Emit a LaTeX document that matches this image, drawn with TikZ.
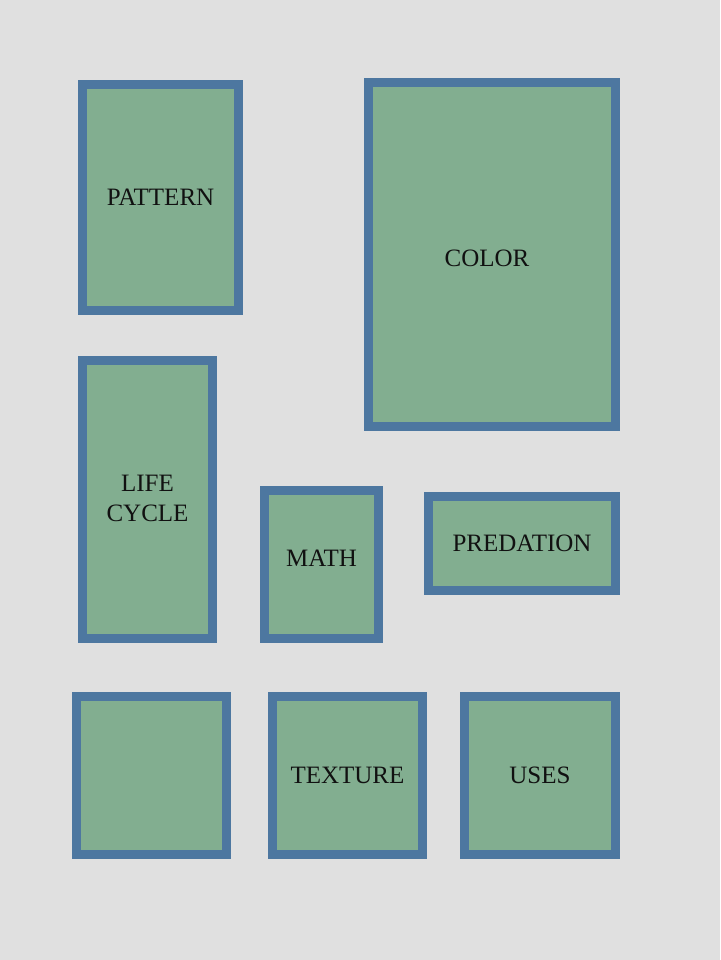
\documentclass[tikz,border=0pt]{standalone}
\usepackage{fontspec}
\setmainfont{Liberation Serif}
\usepackage{xcolor}
\definecolor{bggray}{HTML}{E0E0E0}
\definecolor{boxblue}{HTML}{4D77A0}
\definecolor{boxgreen}{HTML}{82AE90}
\definecolor{boxtext}{HTML}{111111}

\begin{document}
\begin{tikzpicture}[x=1pt, y=-1pt,
          box/.style={draw=boxblue, fill=boxgreen, line width=9pt, text=boxtext, inner sep=0pt,
                      font=\fontsize{25}{30}\selectfont, align=center}]
        \fill[bggray] (0,0) rectangle (720,960);
        % top row
        \node[box, minimum width=156pt, minimum height=226pt] (pattern) at (160.5,197.5) {PATTERN};
        \node[box, minimum width=247pt, minimum height=344pt, text height=25pt] (color) at (492,254.5) {COLOR\hspace{10pt}};
        % middle row
        \node[box, minimum width=130pt, minimum height=278pt, text depth=3pt] (life) at (147.5,499.5) {LIFE\\CYCLE};
        \node[box, minimum width=114pt, minimum height=148pt, text depth=12pt] (math) at (321.5,564.5) {MATH};
        \node[box, minimum width=187pt, minimum height=94pt] (predation) at (522,543.5) {PREDATION};
        % bottom row
        \node[box, minimum width=150pt, minimum height=158pt] (blank) at (151.5,775.5) {};
        \node[box, minimum width=150pt, minimum height=158pt] (texture) at (347.5,775.5) {TEXTURE};
        \node[box, minimum width=151pt, minimum height=158pt] (uses) at (540,775.5) {USES};
      \end{tikzpicture}
\end{document}
